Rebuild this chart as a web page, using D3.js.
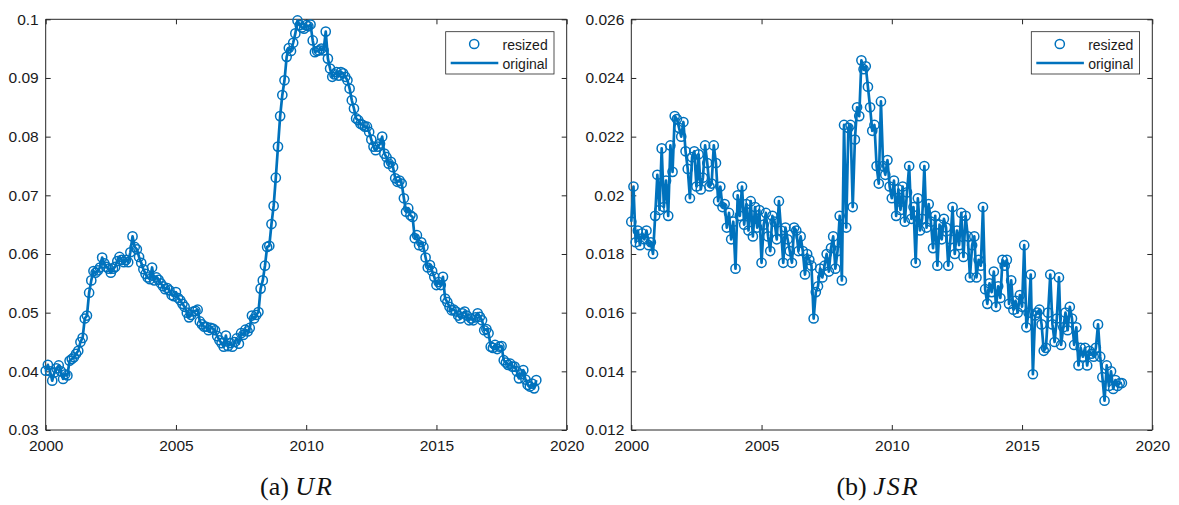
<!DOCTYPE html>
<html>
<head>
<meta charset="utf-8">
<script src="https://cdn.jsdelivr.net/npm/d3@7"></script>
<style>
  html, body { margin: 0; padding: 0; background: #fff; }
  svg { display: block; }
</style>
</head>
<body>
<svg id="chart" width="1179" height="505"></svg>
<script>
// ---------------- DATA ----------------
const startYear = 2000; // monthly observations, Jan 2000 .. Nov 2018

const urValues = [
  // 2000
  0.0401, 0.0411, 0.0400, 0.0384, 0.0398, 0.0405, 0.0410, 0.0400, 0.0387, 0.0395, 0.0393, 0.0418,
  // 2001
  0.0421, 0.0424, 0.0430, 0.0435, 0.0450, 0.0457, 0.0490, 0.0495, 0.0534, 0.0555, 0.0571, 0.0568,
  // 2002
  0.0572, 0.0577, 0.0594, 0.0584, 0.0578, 0.0575, 0.0568, 0.0575, 0.0578, 0.0588, 0.0595, 0.0590,
  // 2003
  0.0586, 0.0590, 0.0586, 0.0603, 0.0630, 0.0612, 0.0608, 0.0595, 0.0585, 0.0574, 0.0566, 0.0560,
  // 2004
  0.0557, 0.0577, 0.0555, 0.0560, 0.0556, 0.0550, 0.0545, 0.0540, 0.0542, 0.0538, 0.0530, 0.0528,
  // 2005
  0.0535, 0.0525, 0.0521, 0.0515, 0.0510, 0.0500, 0.0492, 0.0496, 0.0502, 0.0503, 0.0505, 0.0485,
  // 2006
  0.0480, 0.0476, 0.0476, 0.0470, 0.0474, 0.0473, 0.0470, 0.0460, 0.0453, 0.0448, 0.0442, 0.0461,
  // 2007
  0.0443, 0.0448, 0.0442, 0.0450, 0.0456, 0.0447, 0.0465, 0.0462, 0.0471, 0.0468, 0.0474, 0.0495,
  // 2008
  0.0490, 0.0496, 0.0501, 0.0541, 0.0555, 0.0580, 0.0612, 0.0614, 0.0651, 0.0682, 0.0730, 0.0783,
  // 2009
  0.0835, 0.0871, 0.0896, 0.0936, 0.0951, 0.0946, 0.0960, 0.0976, 0.0998, 0.0990, 0.0986, 0.0984,
  // 2010
  0.0990, 0.0988, 0.0991, 0.0964, 0.0944, 0.0946, 0.0947, 0.0950, 0.0947, 0.0979, 0.0933, 0.0916,
  // 2011
  0.0902, 0.0906, 0.0910, 0.0904, 0.0910, 0.0908, 0.0902, 0.0896, 0.0882, 0.0862, 0.0848, 0.0831,
  // 2012
  0.0828, 0.0822, 0.0820, 0.0817, 0.0817, 0.0808, 0.0795, 0.0783, 0.0777, 0.0783, 0.0788, 0.0800,
  // 2013
  0.0771, 0.0765, 0.0754, 0.0757, 0.0748, 0.0729, 0.0723, 0.0725, 0.0720, 0.0695, 0.0672, 0.0678,
  // 2014
  0.0666, 0.0663, 0.0627, 0.0632, 0.0615, 0.0620, 0.0612, 0.0594, 0.0577, 0.0581, 0.0571, 0.0561,
  // 2015
  0.0547, 0.0552, 0.0547, 0.0561, 0.0524, 0.0518, 0.0510, 0.0504, 0.0505, 0.0502, 0.0495, 0.0490,
  // 2016
  0.0499, 0.0502, 0.0495, 0.0487, 0.0490, 0.0487, 0.0492, 0.0499, 0.0493, 0.0487, 0.0470, 0.0472,
  // 2017
  0.0465, 0.0442, 0.0440, 0.0445, 0.0438, 0.0442, 0.0443, 0.0419, 0.0415, 0.0411, 0.0413, 0.0408,
  // 2018
  0.0408, 0.0400, 0.0388, 0.0395, 0.0402, 0.0386, 0.0377, 0.0374, 0.0379, 0.0371, 0.0385
];

const jsrValues = [
  // 2000
  0.0191, 0.0203, 0.0184, 0.0188, 0.0183, 0.0187, 0.0185, 0.0188, 0.0183, 0.0184, 0.0180, 0.0193,
  // 2001
  0.0207, 0.0195, 0.0216, 0.0196, 0.0205, 0.0193, 0.0217, 0.0208, 0.0227, 0.0226, 0.0223, 0.0220,
  // 2002
  0.0225, 0.0215, 0.0209, 0.0199, 0.0213, 0.0215, 0.0203, 0.0214, 0.0202, 0.0206, 0.0217, 0.0211,
  // 2003
  0.0203, 0.0204, 0.0217, 0.0211, 0.0198, 0.0203, 0.0196, 0.0197, 0.0189, 0.0194, 0.0185, 0.0191,
  // 2004
  0.0175, 0.0200, 0.0193, 0.0203, 0.0190, 0.0197, 0.0188, 0.0198, 0.0186, 0.0196, 0.0189, 0.0195,
  // 2005
  0.0177, 0.0190, 0.0194, 0.0186, 0.0181, 0.0193, 0.0191, 0.0185, 0.0198, 0.0188, 0.0177, 0.0189,
  // 2006
  0.0185, 0.0181, 0.0177, 0.0189, 0.0188, 0.0181, 0.0186, 0.0181, 0.0173, 0.0180, 0.0178, 0.0176,
  // 2007
  0.0158, 0.0167, 0.0169, 0.0175, 0.0172, 0.0176, 0.0180, 0.0174, 0.0182, 0.0186, 0.0175, 0.0181,
  // 2008
  0.0193, 0.0171, 0.0224, 0.0189, 0.0223, 0.0224, 0.0196, 0.0219, 0.0230, 0.0227, 0.0246, 0.0243,
  // 2009
  0.0244, 0.0237, 0.0230, 0.0222, 0.0224, 0.0210, 0.0204, 0.0232, 0.0210, 0.0207, 0.0212, 0.0203,
  // 2010
  0.0199, 0.0205, 0.0193, 0.0202, 0.0195, 0.0203, 0.0191, 0.0201, 0.0210, 0.0192, 0.0196, 0.0177,
  // 2011
  0.0199, 0.0188, 0.0192, 0.0210, 0.0189, 0.0197, 0.0191, 0.0182, 0.0193, 0.0176, 0.0190, 0.0185,
  // 2012
  0.0192, 0.0189, 0.0176, 0.0185, 0.0196, 0.0180, 0.0188, 0.0183, 0.0194, 0.0179, 0.0193, 0.0186,
  // 2013
  0.0172, 0.0183, 0.0186, 0.0172, 0.0178, 0.0176, 0.0196, 0.0168, 0.0163, 0.0170, 0.0167, 0.0174,
  // 2014
  0.0162, 0.0169, 0.0165, 0.0178, 0.0176, 0.0178, 0.0163, 0.0171, 0.0161, 0.0164, 0.0160, 0.0166,
  // 2015
  0.0162, 0.0183, 0.0155, 0.0160, 0.0173, 0.0139, 0.0159, 0.0160, 0.0161, 0.0156, 0.0147, 0.0148,
  // 2016
  0.0160, 0.0173, 0.0156, 0.0150, 0.0158, 0.0172, 0.0149, 0.0155, 0.0160, 0.0154, 0.0162, 0.0158,
  // 2017
  0.0149, 0.0155, 0.0142, 0.0148, 0.0145, 0.0148, 0.0142, 0.0147, 0.0146, 0.0145, 0.0148, 0.0156,
  // 2018
  0.0145, 0.0138, 0.0130, 0.0142, 0.0135, 0.0140, 0.0134, 0.0137, 0.0135, 0.0136, 0.0136
];

const xTickValues = [2000, 2005, 2010, 2015, 2020];
const xTickLabels = ["2000", "2005", "2010", "2015", "2020"];

const urTickValues = [0.03, 0.04, 0.05, 0.06, 0.07, 0.08, 0.09, 0.1];
const urTickLabels = ["0.03", "0.04", "0.05", "0.06", "0.07", "0.08", "0.09", "0.1"];

const jsrTickValues = [0.012, 0.014, 0.016, 0.018, 0.02, 0.022, 0.024, 0.026];
const jsrTickLabels = ["0.012", "0.014", "0.016", "0.018", "0.02", "0.022", "0.024", "0.026"];

const legendLabels = ["resized", "original"];
const captionPrefixes = ["(a) ", "(b) "];
const captionNames = ["UR", "JSR"];

// ---------------- DRAWING ----------------
const COLOR = "#0072BD";
const AXIS = "#262626";
const svg = d3.select("#chart");

function drawPanel(cfg) {
  const x = d3.scaleLinear().domain([2000, 2020]).range([cfg.left, cfg.right]);
  const y = d3.scaleLinear().domain(cfg.yDomain).range([cfg.bottom, cfg.top]);
  const g = svg.append("g");

  const data = cfg.values.map((v, i) => ({ t: startYear + i / 12, v }));

  const tickLen = 5;
  const fontTick = "15.5px 'Liberation Sans', Arial, Helvetica, sans-serif";

  const xAxisB = d3.axisBottom(x).tickValues(xTickValues).tickSize(-tickLen).tickPadding(10)
    .tickFormat((d, i) => xTickLabels[i]);
  const xAxisT = d3.axisTop(x).tickValues(xTickValues).tickSize(-tickLen).tickFormat("");
  const yAxisL = d3.axisLeft(y).tickValues(cfg.yTicks).tickSize(-tickLen).tickPadding(7)
    .tickFormat((d, i) => cfg.yLabels[i]);
  const yAxisR = d3.axisRight(y).tickValues(cfg.yTicks).tickSize(-tickLen).tickFormat("");

  const styleAxis = sel => {
    sel.selectAll("path").attr("stroke", AXIS).attr("stroke-width", 1);
    sel.selectAll("line").attr("stroke", AXIS).attr("stroke-width", 1);
    sel.selectAll("text").attr("fill", "#1a1a1a").style("font", fontTick);
  };

  g.append("g").attr("transform", `translate(0,${cfg.bottom})`).call(xAxisB).call(styleAxis)
    .call(s => s.selectAll("path.domain").attr("d", `M${cfg.left},0H${cfg.right}`));
  g.append("g").attr("transform", `translate(0,${cfg.top})`).call(xAxisT).call(styleAxis)
    .call(s => s.selectAll("path.domain").attr("d", `M${cfg.left},0H${cfg.right}`));
  g.append("g").attr("transform", `translate(${cfg.left},0)`).call(yAxisL).call(styleAxis)
    .call(s => s.selectAll("path.domain").attr("d", `M0,${cfg.bottom}V${cfg.top}`));
  g.append("g").attr("transform", `translate(${cfg.right},0)`).call(yAxisR).call(styleAxis)
    .call(s => s.selectAll("path.domain").attr("d", `M0,${cfg.bottom}V${cfg.top}`));

  // circles (resized)
  g.append("g").selectAll("circle").data(data).join("circle")
    .attr("cx", d => x(d.t)).attr("cy", d => y(d.v)).attr("r", 4.6)
    .attr("fill", "none").attr("stroke", COLOR).attr("stroke-width", 1.5);

  // line (original)
  const line = d3.line().x(d => x(d.t)).y(d => y(d.v));
  g.append("path").datum(data).attr("d", line)
    .attr("fill", "none").attr("stroke", COLOR).attr("stroke-width", 2.7)
    .attr("stroke-linejoin", "round");

  // legend
  const lg = g.append("g");
  const bx0 = cfg.right - 121, bx1 = cfg.right - 12.7;
  const by0 = 31.7, by1 = 74;
  lg.append("rect").attr("x", bx0).attr("y", by0).attr("width", bx1 - bx0).attr("height", by1 - by0)
    .attr("fill", "#fff").attr("stroke", AXIS).attr("stroke-width", 0.8);
  const lgFont = "14px 'Liberation Sans', Arial, Helvetica, sans-serif";
  const textEnd = bx1 - 6.3;
  lg.append("circle").attr("cx", bx0 + 28.5).attr("cy", 44).attr("r", 4.6)
    .attr("fill", "none").attr("stroke", COLOR).attr("stroke-width", 1.5);
  lg.append("line").attr("x1", bx0 + 5).attr("x2", bx0 + 52.6).attr("y1", 63).attr("y2", 63)
    .attr("stroke", COLOR).attr("stroke-width", 2.7);
  lg.append("text").attr("x", textEnd).attr("y", 49.5).attr("text-anchor", "end")
    .style("font", lgFont).attr("fill", "#1a1a1a").text(legendLabels[0]);
  lg.append("text").attr("x", textEnd).attr("y", 68.5).attr("text-anchor", "end")
    .style("font", lgFont).attr("fill", "#1a1a1a").text(legendLabels[1]);

  // caption
  const cap = svg.append("text").attr("x", cfg.captionX).attr("y", 495).attr("text-anchor", "middle")
    .style("font-family", "'Liberation Serif', 'Times New Roman', serif").style("font-size", "26px")
    .attr("fill", "#111");
  cap.append("tspan").text(cfg.capPrefix);
  cap.append("tspan").style("font-style", "italic").attr("letter-spacing", "2px").text(cfg.capName);
}

drawPanel({
  left: 45.7, right: 566.7, top: 19.3, bottom: 430,
  yDomain: [0.03, 0.1], yTicks: urTickValues, yLabels: urTickLabels,
  values: urValues, captionX: 297, capPrefix: captionPrefixes[0], capName: captionNames[0]
});

drawPanel({
  left: 631.3, right: 1152.3, top: 19.3, bottom: 430,
  yDomain: [0.012, 0.026], yTicks: jsrTickValues, yLabels: jsrTickLabels,
  values: jsrValues, captionX: 878, capPrefix: captionPrefixes[1], capName: captionNames[1]
});
</script>
</body>
</html>
